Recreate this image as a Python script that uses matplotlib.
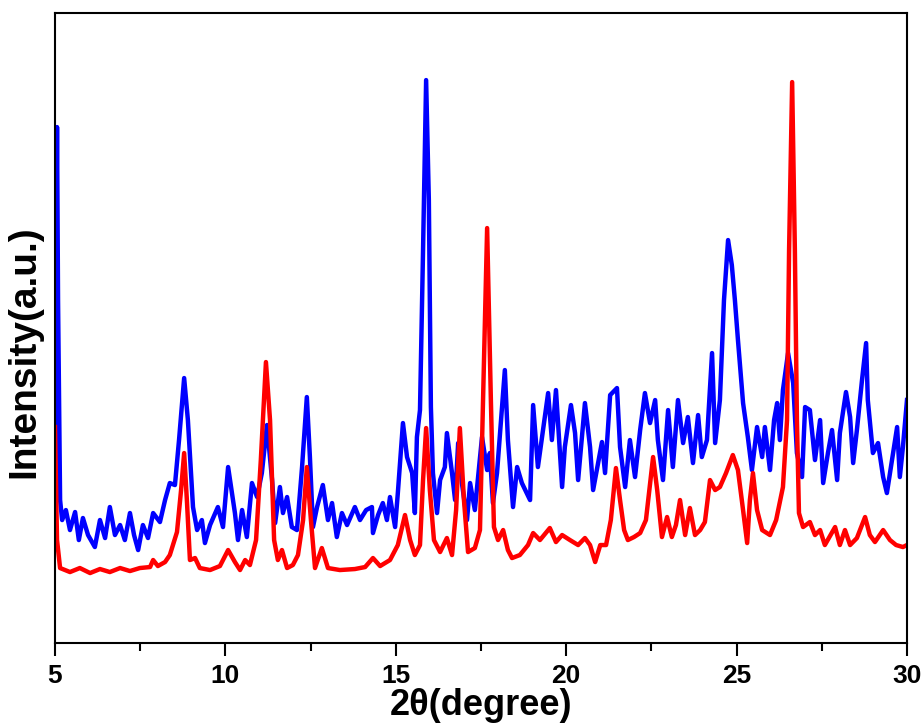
import matplotlib
matplotlib.use("Agg")
import matplotlib.pyplot as plt
from matplotlib.ticker import MultipleLocator

# 2theta (degree) and intensity (a.u.)
red_x = [5.00, 5.06, 5.15, 5.44, 5.73, 6.03, 6.32, 6.61, 6.91, 7.20, 7.49, 7.79, 7.88, 8.02,
         8.23, 8.37, 8.58, 8.70, 8.79, 8.87, 8.96, 9.11, 9.25, 9.55, 9.84, 10.08, 10.28, 10.43,
         10.58, 10.72, 10.90, 11.04, 11.19, 11.31, 11.43, 11.54, 11.66, 11.81, 11.98, 12.13,
         12.28, 12.39, 12.51, 12.63, 12.83, 13.01, 13.36, 13.80, 14.10, 14.33, 14.54, 14.83,
         15.06, 15.27, 15.42, 15.56, 15.71, 15.80, 15.89, 16.00, 16.12, 16.30, 16.50, 16.65,
         16.77, 16.88, 17.00, 17.12, 17.32, 17.47, 17.56, 17.68, 17.79, 17.88, 18.00, 18.15,
         18.29, 18.41, 18.64, 18.88, 19.03, 19.23, 19.52, 19.70, 19.88, 20.11, 20.35, 20.55,
         20.70, 20.85, 21.00, 21.17, 21.31, 21.46, 21.58, 21.70, 21.81, 21.99, 22.17, 22.34,
         22.55, 22.67, 22.81, 22.96, 23.10, 23.22, 23.34, 23.49, 23.63, 23.78, 23.93, 24.07,
         24.22, 24.37, 24.51, 24.69, 24.89, 25.04, 25.19, 25.31, 25.39, 25.48, 25.60, 25.75,
         25.98, 26.16, 26.36, 26.48, 26.54, 26.63, 26.71, 26.77, 26.83, 26.95, 27.15, 27.30,
         27.45, 27.59, 27.89, 28.03, 28.18, 28.33, 28.53, 28.77, 28.91, 29.06, 29.30, 29.50,
         29.68, 29.88, 30.00]
red_y = [216, 103, 75, 71, 75, 70, 74, 71, 75, 72, 75, 76, 83, 77,
         81, 88, 111, 153, 190, 143, 83, 85, 75, 73, 77, 93, 81, 73,
         83, 78, 103, 183, 281, 223, 103, 83, 93, 75, 78, 88,
         123, 176, 123, 75, 95, 75, 73, 74, 76, 85, 77, 83,
         98, 128, 103, 88, 98, 163, 215, 153, 103, 91, 105, 88,
         133, 215, 143, 91, 95, 113, 243, 415, 243, 116, 103, 113,
         93, 85, 88, 98, 110, 103, 115, 101, 108, 103, 98, 105,
         98, 81, 98, 98, 123, 175, 143, 113, 103, 106, 110, 123,
         186, 153, 106, 126, 106, 118, 143, 108, 135, 108, 113, 121,
         163, 153, 156, 170, 188, 173, 133, 100, 143, 170, 133, 113,
         108, 123, 156, 223, 393, 561, 393, 223, 130, 116, 121, 108,
         113, 98, 116, 98, 113, 98, 105, 126, 108, 101, 113, 103,
         98, 96, 98]

blue_x = [5.00, 5.03, 5.06, 5.09, 5.15, 5.21, 5.32, 5.44, 5.59, 5.70, 5.82, 5.97, 6.17, 6.32,
          6.47, 6.61, 6.76, 6.91, 7.05, 7.20, 7.32, 7.44, 7.58, 7.73, 7.88, 8.08, 8.23, 8.37,
          8.52, 8.64, 8.79, 8.90, 9.05, 9.17, 9.31, 9.40, 9.55, 9.78, 9.93, 10.08, 10.28, 10.37,
          10.49, 10.63, 10.78, 10.93, 11.07, 11.22, 11.37, 11.46, 11.60, 11.69, 11.81, 11.95,
          12.10, 12.25, 12.39, 12.48, 12.57, 12.69, 12.86, 13.01, 13.13, 13.27, 13.42, 13.57,
          13.80, 13.95, 14.13, 14.30, 14.33, 14.48, 14.62, 14.74, 14.83, 14.98, 15.06, 15.21,
          15.33, 15.48, 15.56, 15.62, 15.71, 15.80, 15.89, 15.97, 16.03, 16.09, 16.21, 16.30,
          16.44, 16.50, 16.65, 16.74, 16.83, 16.94, 17.09, 17.18, 17.32, 17.53, 17.68, 17.76,
          17.85, 17.97, 18.20, 18.29, 18.44, 18.56, 18.70, 18.94, 19.03, 19.17, 19.32, 19.47,
          19.58, 19.70, 19.88, 19.96, 20.14, 20.26, 20.35, 20.55, 20.70, 20.79, 21.05, 21.14,
          21.29, 21.49, 21.58, 21.73, 21.87, 22.02, 22.17, 22.31, 22.46, 22.61, 22.69, 22.84,
          22.99, 23.13, 23.28, 23.43, 23.57, 23.72, 23.87, 23.98, 24.13, 24.28, 24.37, 24.51,
          24.63, 24.75, 24.86, 24.95, 25.04, 25.19, 25.33, 25.45, 25.60, 25.75, 25.83, 25.98,
          26.10, 26.19, 26.27, 26.36, 26.51, 26.66, 26.77, 26.92, 27.01, 27.15, 27.30, 27.45,
          27.54, 27.68, 27.80, 27.95, 28.03, 28.21, 28.33, 28.42, 28.53, 28.68, 28.80, 28.85,
          29.00, 29.15, 29.30, 29.41, 29.56, 29.71, 29.79, 29.88, 30.00]
blue_y = [143, 343, 516, 343, 143, 123, 133, 113, 131, 103, 125, 108, 96, 123,
          105, 136, 108, 118, 103, 130, 108, 93, 118, 105, 130, 121, 143, 160,
          158, 203, 265, 223, 136, 113, 123, 100, 118, 136, 116, 176, 130, 103,
          133, 106, 160, 146, 170, 218, 163, 120, 156, 130, 146, 116,
          113, 176, 246, 186, 116, 136, 158, 123, 140, 106, 130, 118,
          136, 123, 133, 136, 110, 128, 140, 123, 146, 116, 150, 220,
          186, 170, 130, 206, 233, 393, 563, 443, 236, 170, 130, 163,
          176, 210, 170, 143, 200, 160, 123, 160, 133, 206, 173, 190,
          140, 170, 273, 203, 136, 176, 160, 143, 238, 176, 213, 250,
          203, 253, 156, 196, 238, 210, 163, 240, 196, 153, 201, 170,
          248, 255, 196, 156, 203, 166, 213, 250, 220, 243, 203, 163,
          233, 176, 243, 200, 226, 180, 228, 186, 203, 290, 200, 243,
          343, 403, 378, 343, 303, 240, 206, 173, 216, 186, 216, 173,
          223, 240, 203, 253, 290, 260, 190, 166, 236, 233, 183, 223,
          160, 190, 213, 163, 210, 251, 226, 180, 213, 263, 300, 243,
          190, 200, 166, 150, 183, 216, 166, 196, 243]

x_ticks = [5, 10, 15, 20, 25, 30]

plt.rcParams['font.family'] = ['Liberation Sans Narrow', 'Liberation Sans', 'DejaVu Sans']

fig = plt.figure(figsize=(9.24, 7.27), dpi=100)
ax = fig.add_axes([0.0595, 0.1155, 0.9221, 0.8665])

ax.plot(blue_x, blue_y, color='#0000ff', lw=3.2, solid_joinstyle='round')
ax.plot(red_x, red_y, color='#ff0000', lw=3.2, solid_joinstyle='round')

ax.set_xlim(5, 30)
ax.set_ylim(0, 630)
ax.set_xticks(x_ticks)
ax.xaxis.set_minor_locator(MultipleLocator(2.5))
ax.set_yticks([])
ax.tick_params(axis='x', which='major', direction='out', length=9, width=1.5,
               labelsize=19, pad=6)
ax.tick_params(axis='x', which='minor', direction='out', length=5.5, width=1.5)
for lab in ax.get_xticklabels():
    lab.set_fontweight('bold')
for sp in ax.spines.values():
    sp.set_linewidth(1.5)

ax.set_xlabel('2θ(degree)', fontsize=26, fontweight='bold', labelpad=0)
ax.xaxis.set_label_coords(0.5, -0.072)
ax.set_ylabel('Intensity(a.u.)', fontsize=28, fontweight='bold')
ax.yaxis.set_label_coords(-0.015, 0.462)

fig.savefig('out.png', dpi=100)
